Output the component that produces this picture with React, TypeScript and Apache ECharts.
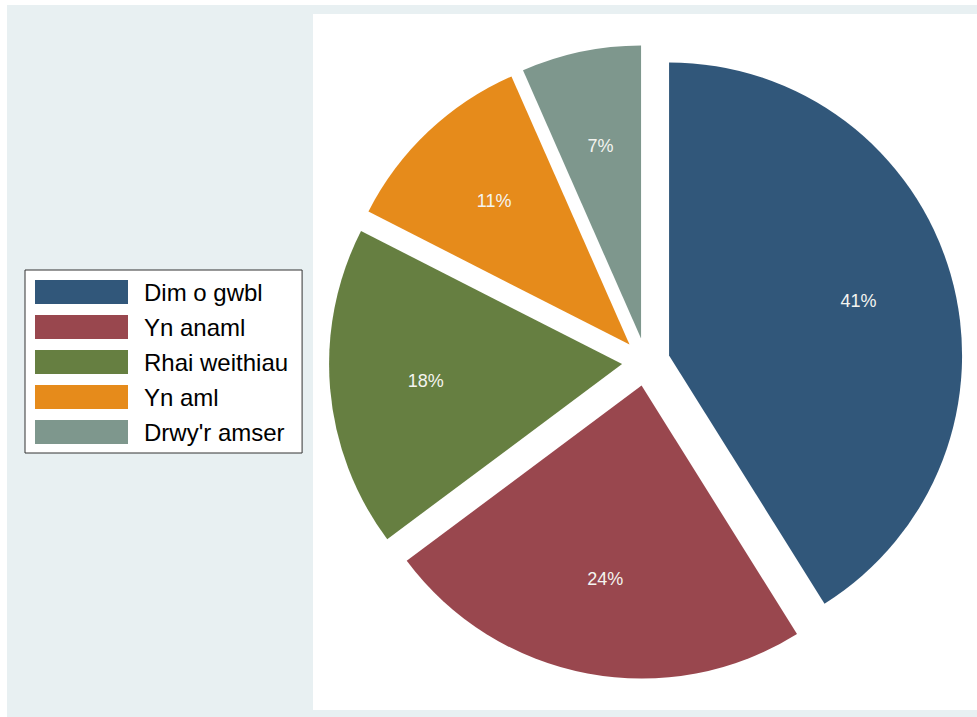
import React, { useEffect, useRef } from "react";
import * as echarts from "echarts";

const categories = ["Dim o gwbl", "Yn anaml", "Rhai weithiau", "Yn aml", "Drwy'r amser"];
const values = [41.1, 23.7, 17.7, 10.9, 6.6];
const colors = ["#31577A", "#99474E", "#667F41", "#E68B1B", "#7E978D"];

export default function App() {
  const ref = useRef<HTMLDivElement>(null);
  useEffect(() => {
    if (!ref.current) return;
    const chart = echarts.init(ref.current, null, { renderer: "svg" });
    const font = "'Liberation Sans', Arial, sans-serif";
    const sliceData = categories.map((name, i) => ({
      name,
      value: values[i],
      selected: true,
      itemStyle: { color: colors[i], borderWidth: 0 },
    }));
    const labelData = categories.map((name, i) => ({
      name,
      value: values[i],
      selected: true,
    }));
    chart.setOption({
      animation: false,
      graphic: [
        {
          type: "rect",
          z: -10,
          shape: { x: 7, y: 5, width: 970, height: 712 },
          style: { fill: "#E8F0F2" },
          silent: true,
        },
        {
          type: "rect",
          z: -9,
          shape: { x: 313, y: 14, width: 664, height: 696 },
          style: { fill: "#FFFFFF" },
          silent: true,
        },
      ],
      legend: {
        orient: "vertical",
        left: 25,
        top: 270,
        data: categories,
        itemWidth: 93,
        itemHeight: 24,
        itemGap: 11,
        padding: [10, 14, 9, 10],
        backgroundColor: "#FFFFFF",
        borderColor: "#333333",
        borderWidth: 1,
        borderRadius: 0,
        selectedMode: false,
        icon: "rect",
        textStyle: {
          color: "#000000",
          fontSize: 24,
          fontFamily: font,
          padding: [0, 0, 0, 11],
        },
      },
      series: [
        {
          type: "pie",
          center: [646, 362],
          radius: 293,
          startAngle: 90,
          clockwise: true,
          selectedMode: "multiple",
          selectedOffset: 24,
          label: { show: false },
          labelLine: { show: false },
          emphasis: { disabled: true },
          data: sliceData,
          z: 2,
        },
        {
          type: "pie",
          center: [646, 362],
          radius: 388,
          startAngle: 90,
          clockwise: true,
          selectedMode: "multiple",
          selectedOffset: 24,
          silent: true,
          itemStyle: { color: "rgba(0,0,0,0)", borderWidth: 0 },
          select: { itemStyle: { color: "rgba(0,0,0,0)", borderWidth: 0 } },
          emphasis: { disabled: true },
          labelLine: { show: false },
          label: {
            show: true,
            position: "inside",
            color: "#F4F4F0",
            fontSize: 18,
            fontFamily: font,
            formatter: (p: any) => Math.round(p.value) + "%",
          },
          data: labelData,
          z: 3,
        },
      ],
    });
    return () => chart.dispose();
  }, []);
  return (
    <div
      ref={ref}
      style={{ position: "fixed", left: 0, top: 0, width: 977, height: 717, background: "#FFFFFF" }}
    />
  );
}
